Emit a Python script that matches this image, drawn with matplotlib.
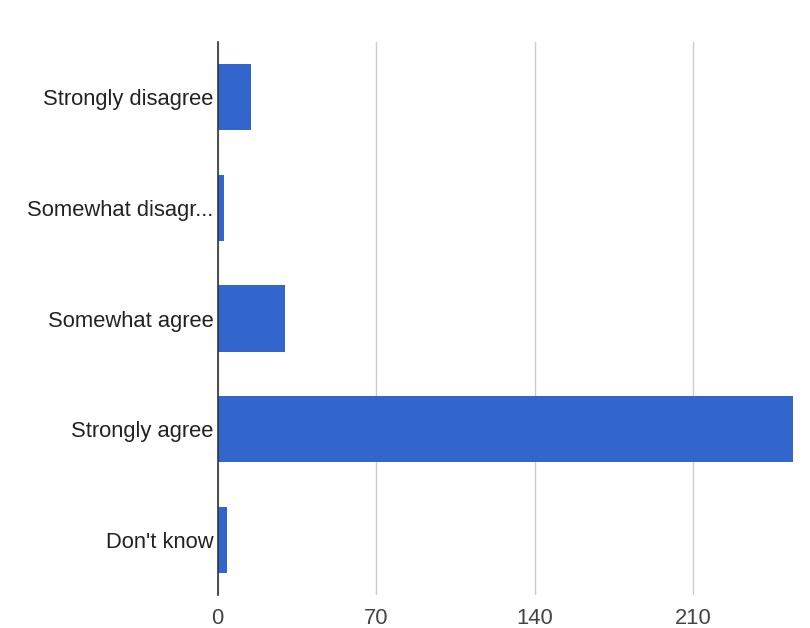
import matplotlib.pyplot as plt

# Survey answers and how many people picked each one
answers = ['Strongly disagree', 'Somewhat disagr...', 'Somewhat agree',
           'Strongly agree', "Don't know"]
counts = [15, 3, 30, 254, 4]
ticks = [0, 70, 140, 210]

BAR_COLOR = '#3366cc'
TEXT_COLOR = '#222222'

plt.rcParams['font.family'] = ['Liberation Sans', 'DejaVu Sans']

fig = plt.figure(figsize=(8.1, 6.28), dpi=100)
W, H = 810, 628
left, right, top, bottom = 217.5, 810, 42, 595
ax = fig.add_axes([left / W, 1 - bottom / H, (right - left) / W, (bottom - top) / H])

ypos = list(range(len(answers)))
ax.barh(ypos, counts, height=0.6, color=BAR_COLOR, zorder=2)

ax.set_ylim(len(answers) - 0.5, -0.5)
ax.set_xlim(0, 261.5)
ax.set_yticks(ypos)
ax.set_yticklabels(answers)
ax.set_xticks(ticks)
ax.set_xticklabels([str(t) for t in ticks])

ax.grid(axis='x', color='#cccccc', linewidth=1, zorder=0)
ax.tick_params(axis='both', length=0, labelsize=15.8)
ax.tick_params(axis='y', pad=3, labelcolor=TEXT_COLOR)
ax.tick_params(axis='x', pad=9, labelcolor='#444444')

for side in ['top', 'right', 'bottom']:
    ax.spines[side].set_visible(False)
ax.spines['left'].set_color('#333333')
ax.spines['left'].set_linewidth(1.2)
ax.spines['left'].set_zorder(3)

fig.savefig('out.png', dpi=100, facecolor='white')
